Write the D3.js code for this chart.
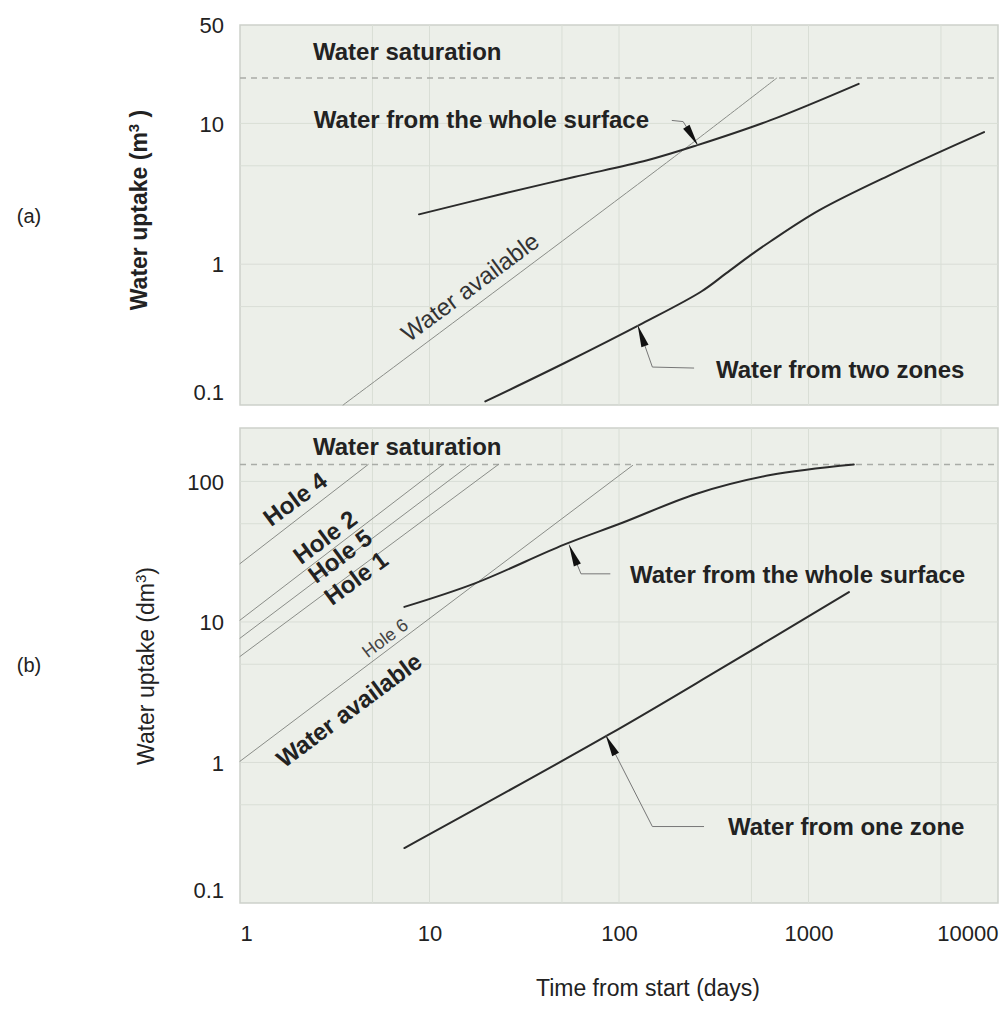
<!DOCTYPE html>
<html><head><meta charset="utf-8">
<script src="https://cdn.jsdelivr.net/npm/d3@7"></script>
<style>
body{margin:0;background:#fff}
text{font-family:"Liberation Sans",Arial,Helvetica,sans-serif;fill:#222}
</style>
</head><body>
<svg id="chart" width="1005" height="1009"></svg>
<script>
// ---------- data ----------
const xTicks = [1, 10, 100, 1000, 10000];
const yTicksA = [0.1, 1, 10, 50];
const yTicksB = [0.1, 1, 10, 100];
const gridX = [5, 10, 50, 100, 500, 1000, 5000];
const gridYA = [0.5, 1, 5, 10];
const gridYB = [0.5, 1, 5, 10, 50, 100];
const saturationA = 21;
const saturationB = 132;

// panel (a) – m3
const availableA_t = [3.5, 196, 680];
const availableA_v = [0.1, 5.8, 21];
const wholeA_t = [8.8, 25, 58, 141, 257, 626, 1840];
const wholeA_v = [2.26, 3.19, 4.16, 5.47, 6.98, 10.5, 19.1];
const twoZonesA_t = [19.7, 51.3, 133, 272, 367, 495, 629, 1142, 2790, 8440];
const twoZonesA_v = [0.106, 0.198, 0.38, 0.64, 0.86, 1.16, 1.45, 2.42, 4.4, 8.67];

// panel (b) – dm3
const hole4_t = [1, 4.75],  hole4_v = [26, 132];
const hole2_t = [1, 11.8],  hole2_v = [10.3, 132];
const hole5_t = [1, 16.4],  hole5_v = [7.66, 132];
const hole1_t = [1, 23.1],  hole1_v = [5.68, 132];
const hole6_t = [1, 118],   hole6_v = [1.02, 130];
const wholeB_t = [7.37, 17.5, 51.3, 105, 257, 629, 1734];
const wholeB_v = [12.8, 18.9, 35.5, 51, 81.8, 111, 132];
const oneZoneB_t = [7.37, 87.7, 345, 1634];
const oneZoneB_v = [0.246, 1.57, 4.65, 16.3];

// leader arrows (data coordinates: label end -> elbow -> tip)
const arrowA_whole_t = [190, 218, 261],  arrowA_whole_v = [10.5, 10.3, 6.98];
const arrowA_two_t = [249, 150, 125.5],  arrowA_two_v = [0.183, 0.186, 0.369];
const arrowB_whole_t = [90, 63, 54.5],   arrowB_whole_v = [22, 22, 35.5];
const arrowB_one_t = [281, 150, 85],     arrowB_one_v = [0.35, 0.35, 1.57];

// ---------- layout ----------
const svg = d3.select("#chart");
const x = d3.scaleLog().domain([1, 10000]).range([240, 998]);
const yA = d3.scaleLog().domain([0.1, 50]).range([405, 25]);
const yB = d3.scaleLog().domain([0.1, 240]).range([903, 428]);
const zip = (t, v) => t.map((d, i) => [d, v[i]]);
const FONT = '"Liberation Sans",Arial,sans-serif';

function panel(y, gridY, yTicks) {
  const g = svg.append("g");
  g.append("rect").attr("x", x.range()[0]).attr("y", y.range()[1])
    .attr("width", x.range()[1] - x.range()[0]).attr("height", y.range()[0] - y.range()[1])
    .attr("fill", "#ecefe9").attr("stroke", "#cdd1ca").attr("stroke-width", 1.5);
  g.selectAll(".gx").data(gridX).enter().append("line")
    .attr("x1", d => x(d)).attr("x2", d => x(d))
    .attr("y1", y.range()[1]).attr("y2", y.range()[0])
    .attr("stroke", "#d9ded6").attr("stroke-width", 1);
  g.selectAll(".gy").data(gridY).enter().append("line")
    .attr("x1", x.range()[0]).attr("x2", x.range()[1])
    .attr("y1", d => y(d)).attr("y2", d => y(d))
    .attr("stroke", "#d9ded6").attr("stroke-width", 1);
  const ax = d3.axisLeft(y).tickValues(yTicks).tickSize(0).tickPadding(16)
    .tickFormat(d3.format("~g"));
  const a = g.append("g").attr("transform", `translate(${x.range()[0]},0)`).call(ax);
  a.select(".domain").remove();
  a.selectAll("text").attr("font-size", 22).attr("fill", "#333").attr("font-family", FONT)
    .attr("dy", d => d === yTicks[0] ? "-0.25em" : "0.35em");
  return g;
}

const line = (xs, ys) => d3.line().x(d => xs(d[0])).y(d => ys(d[1])).curve(d3.curveCatmullRom.alpha(0.5));

function curve(g, y, t, v, w, color) {
  g.append("path").datum(zip(t, v)).attr("d", line(x, y))
    .attr("fill", "none").attr("stroke", color).attr("stroke-width", w)
    .attr("stroke-linecap", "round");
}

function saturation(g, y, val) {
  g.append("line").attr("x1", x.range()[0]).attr("x2", x.range()[1])
    .attr("y1", y(val)).attr("y2", y(val))
    .attr("stroke", "#a9aca7").attr("stroke-width", 1.5).attr("stroke-dasharray", "6,5");
}

function arrow(g, y, t, v) {
  const pts = zip(t, v).map(d => [x(d[0]), y(d[1])]);
  g.append("path").attr("d", d3.line()(pts)).attr("fill", "none")
    .attr("stroke", "#777").attr("stroke-width", 1);
  const tip = pts[pts.length - 1], prev = pts[pts.length - 2];
  const dx = prev[0] - tip[0], dy = prev[1] - tip[1];
  const L = Math.hypot(dx, dy), ux = dx / L, uy = dy / L;
  const hl = Math.min(22, L - 2), hw = 3.8;
  const bx = tip[0] + ux * hl, by = tip[1] + uy * hl;
  g.append("path").attr("d",
    `M${tip[0]},${tip[1]}L${bx - uy * hw},${by + ux * hw}L${bx + uy * hw},${by - ux * hw}Z`)
    .attr("fill", "#111");
}

function label(g, txt, px, py, o = {}) {
  const t = g.append("text")
    .attr("transform", `translate(${px},${py}) rotate(${o.angle || 0})`)
    .attr("text-anchor", o.anchor || "start")
    .attr("dy", "0.35em")
    .attr("font-size", o.size || 24)
    .attr("font-weight", o.weight || "bold")
    .text(txt);
  if (o.fill) t.style("fill", o.fill);
  return t;
}

const slopeAngle = y => -Math.atan((y(10) - y(100)) / (x(100) - x(10))) * 180 / Math.PI;

// ---------- panel (a) ----------
const gA = panel(yA, gridYA, yTicksA);
saturation(gA, yA, saturationA);
curve(gA, yA, availableA_t, availableA_v, 1, "#8a8d88");
curve(gA, yA, wholeA_t, wholeA_v, 2, "#2b2b2b");
curve(gA, yA, twoZonesA_t, twoZonesA_v, 2, "#2b2b2b");
arrow(gA, yA, arrowA_whole_t, arrowA_whole_v);
arrow(gA, yA, arrowA_two_t, arrowA_two_v);
label(gA, "Water saturation", 313, 52);
label(gA, "Water from the whole surface", 649, 120, {anchor: "end"});
label(gA, "Water from two zones", 716, 370);
label(gA, "Water available", 470, 287, {anchor: "middle", weight: "normal", size: 24, angle: slopeAngle(yA), fill: "#333"});

// ---------- panel (b) ----------
const gB = panel(yB, gridYB, yTicksB);
saturation(gB, yB, saturationB);
[[hole4_t, hole4_v], [hole2_t, hole2_v], [hole5_t, hole5_v], [hole1_t, hole1_v], [hole6_t, hole6_v]]
  .forEach(h => curve(gB, yB, h[0], h[1], 1, "#8a8d88"));
curve(gB, yB, wholeB_t, wholeB_v, 2, "#2b2b2b");
curve(gB, yB, oneZoneB_t, oneZoneB_v, 2, "#2b2b2b");
arrow(gB, yB, arrowB_whole_t, arrowB_whole_v);
arrow(gB, yB, arrowB_one_t, arrowB_one_v);
const angB = slopeAngle(yB);
label(gB, "Water saturation", 313, 447);
label(gB, "Hole 4", 295, 499, {anchor: "middle", angle: angB});
label(gB, "Hole 2", 325, 537, {anchor: "middle", angle: angB});
label(gB, "Hole 5", 340, 556, {anchor: "middle", angle: angB});
label(gB, "Hole 1", 356, 578, {anchor: "middle", angle: angB});
label(gB, "Hole 6", 385, 638, {anchor: "middle", angle: angB, size: 18, weight: "normal", fill: "#444"});
label(gB, "Water available", 349, 710, {anchor: "middle", angle: angB});
label(gB, "Water from the whole surface", 630, 575);
label(gB, "Water from one zone", 728, 827);

// ---------- x axis ----------
const xa = svg.append("g").attr("transform", `translate(0,${yB.range()[0]})`)
  .call(d3.axisBottom(x).tickValues(xTicks).tickSize(0).tickPadding(22).tickFormat(d3.format("d")));
xa.select(".domain").remove();
xa.selectAll("text").attr("font-size", 22).attr("fill", "#333").attr("font-family", FONT)
  .attr("text-anchor", d => d === xTicks[0] ? "start" : d === xTicks[xTicks.length - 1] ? "end" : "middle");

svg.append("text").attr("x", 648).attr("y", 988).attr("dy", "0.35em").attr("text-anchor", "middle")
  .attr("font-size", 23).text("Time from start (days)");

// ---------- y titles ----------
const tA = svg.append("text").attr("transform", "translate(147,210) rotate(-90)")
  .attr("text-anchor", "middle").attr("font-size", 23).attr("font-weight", "bold");
tA.append("tspan").text("Water uptake (m");
tA.append("tspan").attr("baseline-shift", "super").attr("font-size", 15).text("3");
tA.append("tspan").text(" )");
const tB = svg.append("text").attr("transform", "translate(154,666) rotate(-90)")
  .attr("text-anchor", "middle").attr("font-size", 23);
tB.append("tspan").text("Water uptake (dm");
tB.append("tspan").attr("baseline-shift", "super").attr("font-size", 15).text("3");
tB.append("tspan").text(")");

svg.append("text").attr("x", 29).attr("y", 216).attr("dy", "0.35em").attr("text-anchor", "middle")
  .attr("font-size", 20).text("(a)");
svg.append("text").attr("x", 29).attr("y", 665).attr("dy", "0.35em").attr("text-anchor", "middle")
  .attr("font-size", 20).text("(b)");
</script>
</body></html>
